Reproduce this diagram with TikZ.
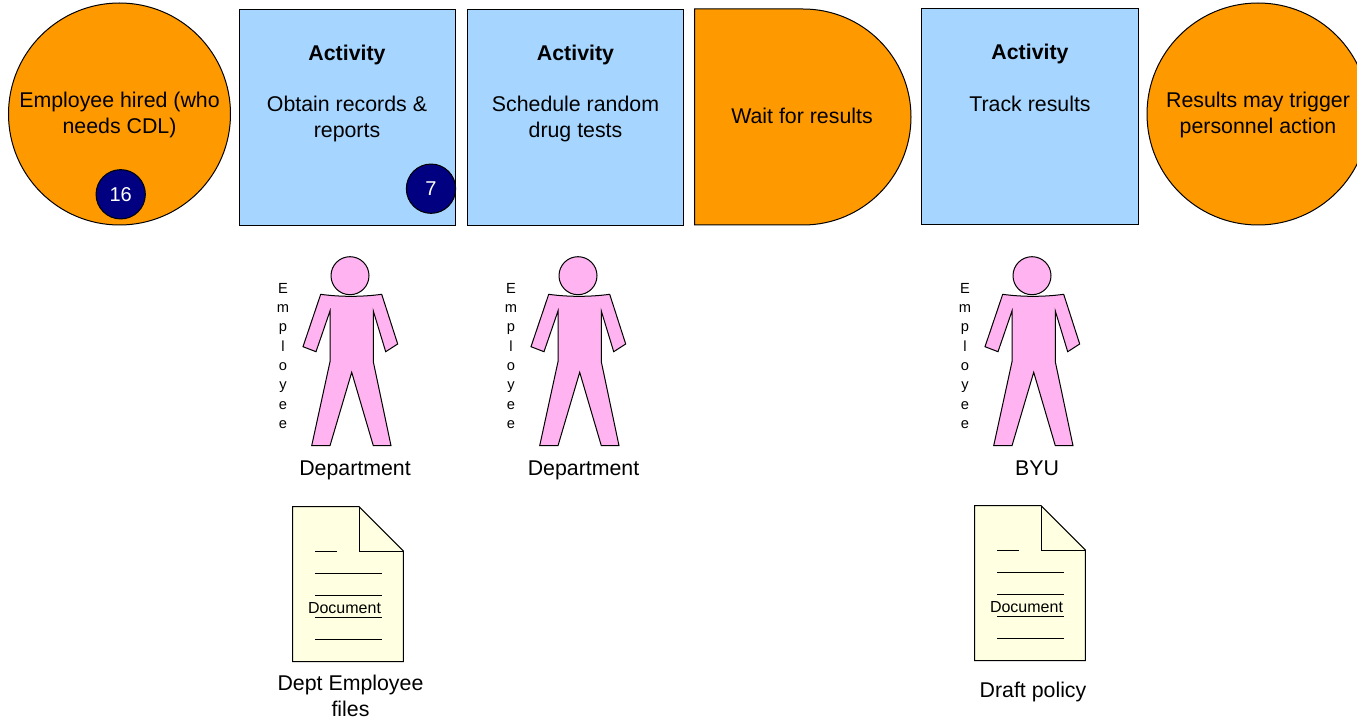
\documentclass[tikz,border=0pt]{standalone}
\usepackage{fontspec}
\setmainfont{Liberation Sans}
\definecolor{orangefill}{RGB}{255,153,0}
\definecolor{bluefill}{RGB}{166,214,255}
\definecolor{navyfill}{RGB}{0,0,128}
\definecolor{pinkfill}{RGB}{255,179,240}
\definecolor{docfill}{RGB}{255,255,225}
\tikzset{
  outl/.style={draw=black,line width=0.75pt},
  txt/.style={font=\fontsize{16}{19.5}\selectfont,align=center,inner sep=0pt,text=black},
  hd/.style={font=\fontsize{16}{19.5}\selectfont\bfseries,inner sep=0pt},
  badge/.style={circle,outl,fill=navyfill,minimum size=37pt,inner sep=0pt,text=white,font=\fontsize{15}{18}\selectfont},
  vert/.style={font=\fontsize{11}{14.5}\selectfont,align=center,inner sep=0pt},
  doctxt/.style={font=\fontsize{12}{14}\selectfont,inner sep=0pt},
  person/.pic={
    \path[outl,fill=pinkfill] (320.7,294.3) .. controls (340,297) and (362,297) .. (381.7,294.3)
      -- (397.7,344) -- (385.7,351.7) -- (373.3,311) -- (373.3,361.7) -- (391,445.7)
      -- (373.3,445.7) -- (351.7,372.3) -- (330,445.7) -- (311.7,445.7) -- (330,361.7)
      -- (330,311) -- (316,351.7) -- (303,346.7) -- cycle;
    \path[outl,fill=pinkfill] (350,275.7) circle (19);
    \node[vert] (-word) at (283,356) {E\\m\\p\\l\\o\\y\\e\\e};
  },
  docpage/.pic={
    \path[outl,fill=docfill] (292.7,506.7) -- (359,506.7) -- (403.3,551) -- (403.3,661.7) -- (292.7,661.7) -- cycle;
    \path[outl] (359,506.7) -- (359,551) -- (403.3,551);
    \draw[black,line width=0.75pt] (315,551) -- (337.3,551)
      (315,573) -- (381.7,573)
      (315,595) -- (381.7,595)
      (315,617) -- (381.7,617)
      (315,639) -- (381.7,639);
    \node[doctxt] (-label) at (344.5,608.5) {Document};
  }
}
\begin{document}
\begin{tikzpicture}[x=0.75pt,y=-0.75pt]
\useasboundingbox (0,0) rectangle (1357,720);
% start circle
\node[circle,outl,fill=orangefill,minimum size=166.5pt,inner sep=0pt] (start) at (119.5,114) {};
\node[txt] (starttxt) at (119.5,114.5) {Employee hired (who\\needs CDL)};
\node[badge] (b16) at (120.7,194.3) {16};
% activity 1
\node[rectangle,outl,fill=bluefill,minimum width=162.3pt,minimum height=162pt,inner sep=0pt] (act1) at (347.5,117.3) {};
\node[hd] (act1h) at (347,55) {Activity};
\node[txt] (act1t) at (347,119) {Obtain records \&\\reports};
\node[badge] (b7) at (431,188.7) {7};
% activity 2
\node[rectangle,outl,fill=bluefill,minimum width=162.3pt,minimum height=162pt,inner sep=0pt] (act2) at (575.7,117.3) {};
\node[hd] (act2h) at (575.5,55) {Activity};
\node[txt] (act2t) at (575.5,119) {Schedule random\\drug tests};
% delay
\path[outl,fill=orangefill] (694.5,9) -- (803,9) arc[start angle=90,end angle=-90,radius=81pt] -- (694.5,225) -- cycle;
\node[txt] (wait) at (802,116) {Wait for results};
% activity 3
\node[rectangle,outl,fill=bluefill,minimum width=162.3pt,minimum height=162pt,inner sep=0pt] (act3) at (1030,117) {};
\node[hd] (act3h) at (1030,54) {Activity};
\node[txt] (act3t) at (1030,104) {Track results};
% end circle
\node[circle,outl,fill=orangefill,minimum size=166.5pt,inner sep=0pt] (endc) at (1258,114) {};
\node[txt] (endtxt) at (1258,114.5) {Results may trigger\\personnel action};
% people
\pic (p1) at (0,0) {person};
\pic (p2) at (228,0) {person};
\pic (p3) at (682,0) {person};
\node[txt] (r1) at (355,470) {Department};
\node[txt] (r2) at (583.5,470) {Department};
\node[txt] (r3) at (1037,468) {BYU};
% documents
\pic (d1) at (0,0) {docpage};
\pic (d2) at (682,-1) {docpage};
\node[txt] (f1) at (350.5,696) {Dept Employee\\files};
\node[txt] (f2) at (1033,692) {Draft policy};
\end{tikzpicture}
\end{document}
